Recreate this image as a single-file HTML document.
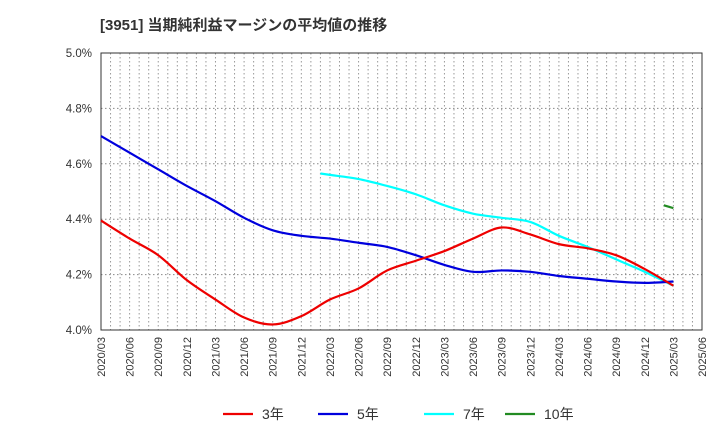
<!DOCTYPE html>
<html><head><meta charset="utf-8"><style>body{margin:0;background:#fff}svg{display:block;font-family:"Liberation Sans","Noto Sans CJK JP",sans-serif}</style></head>
<body>
<svg id="c" width="720" height="440"></svg>
<script>
const ticksX=["2020/03","2020/06","2020/09","2020/12","2021/03","2021/06","2021/09","2021/12","2022/03","2022/06","2022/09","2022/12","2023/03","2023/06","2023/09","2023/12","2024/03","2024/06","2024/09","2024/12","2025/03","2025/06"];
const ticksY=[4.0,4.2,4.4,4.6,4.8,5.0];
const m3=[0,3,6,9,12,15,18,21,24,27,30,33,36,39,42,45,48,51,54,57,60];
const v3=[4.395,4.33,4.27,4.18,4.11,4.045,4.02,4.05,4.11,4.15,4.215,4.25,4.285,4.33,4.37,4.345,4.31,4.295,4.27,4.22,4.16];
const m5=m3;
const v5=[4.70,4.64,4.58,4.52,4.465,4.405,4.36,4.34,4.33,4.315,4.30,4.27,4.235,4.21,4.215,4.21,4.195,4.185,4.175,4.17,4.175];
const m7=[23,24,27,30,33,36,39,42,45,48,51,54,57,60];
const v7=[4.565,4.56,4.545,4.52,4.49,4.45,4.42,4.405,4.39,4.34,4.30,4.255,4.21,4.16];
const m10=[59,60];
const v10=[4.45,4.44];
const NS="http://www.w3.org/2000/svg",svg=document.getElementById('c');
const X0=101,X1=702,Y0=330,Y1=53;
const x=m=>X0+(X1-X0)*m/63, y=v=>Y0-(v-4.0)/1.0*(Y0-Y1);
function el(t,a,p){const e=document.createElementNS(NS,t);for(const k in a)e.setAttribute(k,a[k]);(p||svg).appendChild(e);return e;}
const t=el('text',{x:100,y:30,'font-size':15,'font-weight':'bold',fill:'#333'});t.textContent="[3951]  当期純利益マージンの平均値の推移";


for(let m=1;m<63;m++){const l=el('line',{x1:x(m),x2:x(m),y1:Y1,y2:Y0,stroke:'#999','stroke-dasharray':'1.5,2.5','stroke-width':1});

}
ticksY.forEach(v=>{if(v>4&&v<5){const l=el('line',{x1:X0,x2:X1,y1:y(v),y2:y(v),stroke:'#888','stroke-dasharray':'1.5,2.5'});

}
const tx=el('text',{x:92,y:y(v)+4,'font-size':11.5,'text-anchor':'end',fill:'#333'});tx.textContent=v.toFixed(1)+'%';

});
const fr=el('rect',{x:X0,y:Y1,width:X1-X0,height:Y0-Y1,fill:'none',stroke:'#333'});


ticksX.forEach((s,i)=>{const xx=x(i*3);const tx=el('text',{x:0,y:0,'font-size':11,'text-anchor':'end',fill:'#333',transform:`translate(${xx+4},337) rotate(-90)`});tx.textContent=s;

});
function path(pts){let d='M'+pts[0][0]+','+pts[0][1];
for(let i=0;i<pts.length-1;i++){const p0=pts[Math.max(0,i-1)],p1=pts[i],p2=pts[i+1],p3=pts[Math.min(pts.length-1,i+2)];
d+=` C${p1[0]+(p2[0]-p0[0])/6},${p1[1]+(p2[1]-p0[1])/6} ${p2[0]-(p3[0]-p1[0])/6},${p2[1]-(p3[1]-p1[1])/6} ${p2[0]},${p2[1]}`;}return d;}
function series(ms,vs,c,n){const p=el('path',{d:path(ms.map((m,i)=>[x(m),y(vs[i])])),fill:'none',stroke:c,'stroke-width':2.2,'stroke-linejoin':'round'});

}
series(m7,v7,'#00ffff','line-7y');
series(m5,v5,'#0000dd','line-5y');
series(m3,v3,'#ee0000','line-3y');
series(m10,v10,'#228b22','line-10y');
[[223,'#ee0000','3年'],[318,'#0000dd','5年'],[424,'#00ffff','7年'],[505,'#228b22','10年']].forEach(([lx,c,s])=>{
const g=el('g',{});


el('line',{x1:lx,x2:lx+30,y1:414,y2:414,stroke:c,'stroke-width':2.2},g);
const tx=el('text',{x:lx+39,y:419,'font-size':14,fill:'#333'},g);tx.textContent=s;});
</script>
</body></html>
